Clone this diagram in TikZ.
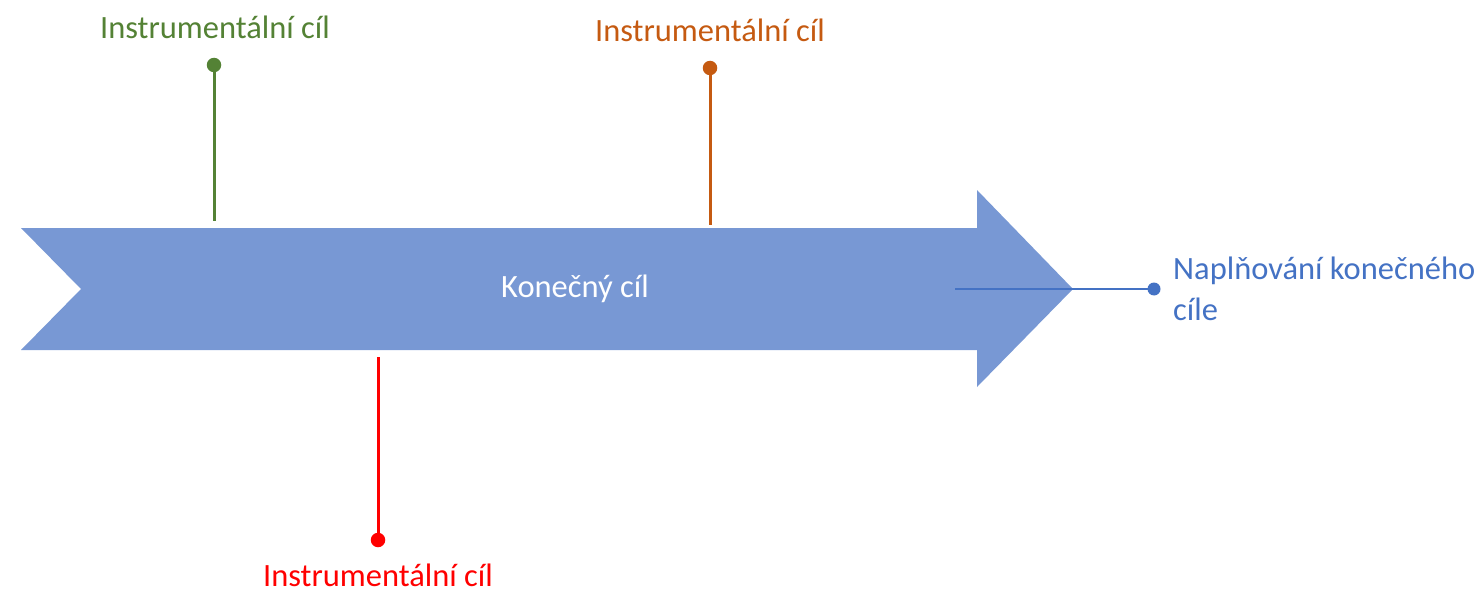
\documentclass[tikz,border=0pt]{standalone}
\usepackage{fontspec}
\setmainfont{Carlito}
\definecolor{arrowblue}{RGB}{120,152,212}
\definecolor{ogreen}{RGB}{84,130,53}
\definecolor{oorange}{RGB}{197,90,17}
\definecolor{ored}{RGB}{255,0,0}
\definecolor{oblue}{RGB}{68,114,196}
\begin{document}
\begin{tikzpicture}[x=1pt,y=-1pt,
  lbl/.style={font=\fontsize{32.5}{40}\selectfont, inner sep=0pt},
  stem/.style={line width=3pt},
  pin/.style={circle, fill, inner sep=0pt, minimum size=14.5pt}]
\useasboundingbox (0,0) rectangle (1484,594);
% arrow
\fill[arrowblue] (21,228) -- (977,228) -- (977,190) -- (1073,289) -- (977,387) -- (977,350) -- (21,350) -- (81,289) -- cycle;
\node[lbl, text=white] (main) at (575,289) {Konečný cíl};
% green
\node[lbl, text=ogreen] (g) at (215,27) {Instrumentální cíl};
\node[pin, ogreen] (gd) at (214,65) {};
\coordinate (ge) at (214,221);
\draw[stem, ogreen] (gd.center) -- (ge);
% orange
\node[lbl, text=oorange] (o) at (710,30) {Instrumentální cíl};
\node[pin, oorange] (od) at (710,68) {};
\coordinate (oe) at (710,225);
\draw[stem, oorange] (od.center) -- (oe);
% red
\node[lbl, text=ored] (r) at (378,575) {Instrumentální cíl};
\node[pin, ored] (rd) at (378,540) {};
\coordinate (re) at (378,357);
\draw[stem, ored] (rd.center) -- (re);
% blue
\node[pin, oblue, minimum size=13pt] (bd) at (1154,289) {};
\coordinate (bs) at (955,289);
\draw[oblue, line width=2.2pt] (bs) -- (bd.center);
\node[lbl, text=oblue, anchor=north west, align=left, font=\fontsize{32.5}{41}\selectfont] (b) at (1173,257) {Naplňování konečného\\cíle};
\end{tikzpicture}
\end{document}
